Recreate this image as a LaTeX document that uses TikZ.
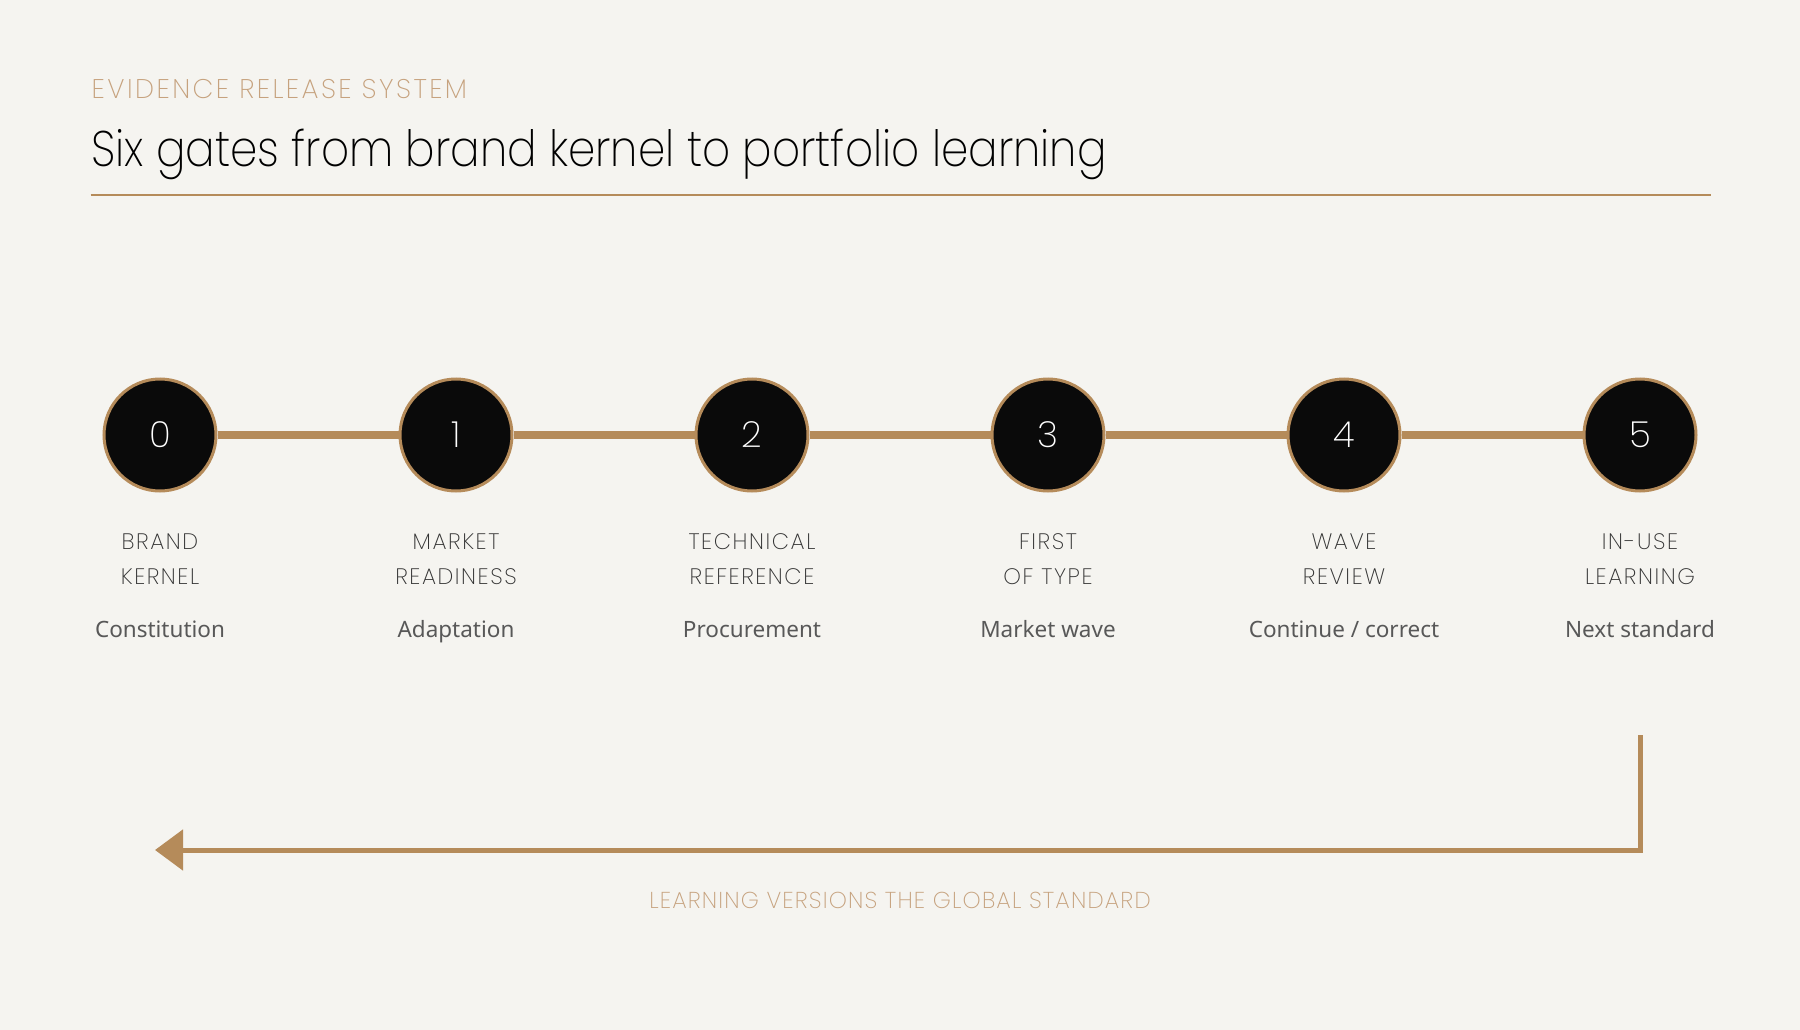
\documentclass[tikz,border=0pt]{standalone}
\usepackage{fontspec}
\usetikzlibrary{arrows.meta}
\setmainfont{Noto Sans}
\newfontfamily\thinfont{Poppins ExtraLight}
\newfontfamily\labfont{Poppins ExtraLight}[LetterSpace=7]
\newfontfamily\kickfont{Poppins ExtraLight}[LetterSpace=9]
\newfontfamily\loopfont{Poppins ExtraLight}[LetterSpace=5]
\newfontfamily\titlefont{Poppins ExtraLight}[FakeStretch=0.875]
\newfontfamily\subfont{Noto Sans}
\definecolor{bg}{HTML}{F5F4F0}
\definecolor{tan}{HTML}{B58B5A}
\definecolor{lighttan}{HTML}{C6A27E}
\definecolor{labgray}{HTML}{333333}
\definecolor{subgray}{HTML}{585858}
\definecolor{gatefill}{HTML}{0A0A0A}
\tikzset{
  gate/.style={circle, fill=gatefill, draw=tan, line width=3pt, minimum size=112pt, inner sep=0pt,
    text=white, font=\thinfont\fontsize{36}{36}\selectfont},
  link/.style={draw=tan, line width=8pt},
  lab/.style={align=center, anchor=base, text=labgray, inner sep=0pt, font=\labfont\fontsize{22.4}{35}\selectfont},
  sub/.style={anchor=base, text=subgray, inner sep=0pt, font=\subfont\fontsize{22.5}{24}\selectfont},
  looparrow/.style={draw=tan, line width=5pt, -{Triangle[length=28pt,width=40pt]}},
}
\begin{document}
\begin{tikzpicture}[x=1pt,y=-1pt]
\useasboundingbox[fill=bg] (0,0) rectangle (1800,1030);
% header
\node[anchor=base west, inner sep=0pt, text=lighttan, font=\kickfont\fontsize{27}{27}\selectfont] (kicker) at (91.5,98.3) {EVIDENCE RELEASE SYSTEM};
\node[anchor=base west, inner sep=0pt, text=black, font=\titlefont\fontsize{50}{50}\selectfont] (title) at (91,166.7) {Six gates from brand kernel to portfolio learning};
\coordinate (ruleL) at (90.7,195);
\coordinate (ruleR) at (1710.5,195);
\draw[tan, line width=2pt] (ruleL) -- (ruleR);
% gates
\foreach \i/\x/\la/\lb/\s in {0/160/BRAND/KERNEL/Constitution,
                              1/456/MARKET/READINESS/Adaptation,
                              2/752/TECHNICAL/REFERENCE/Procurement,
                              3/1048/FIRST/OF TYPE/Market wave,
                              4/1344/WAVE/REVIEW/{Continue / correct},
                              5/1640/IN-USE/LEARNING/Next standard}{
  \node[gate] (g\i) at (\x,435) {\i};
  \node[lab] (l\i) at (\x,584) {\la\\\lb};
  \node[sub] (s\i) at (\x,637.7) {\s};
}
\foreach \a/\b in {0/1,1/2,2/3,3/4,4/5}{
  \draw[link] (g\a) -- (g\b);
}
% loop back
\coordinate (loopStart) at (1640,735);
\coordinate (loopEnd) at (155,850);
\draw[looparrow] (loopStart) |- (loopEnd);
\node[inner sep=0pt, text=lighttan, font=\loopfont\fontsize{23}{23}\selectfont] (loopLabel) at (900,900) {LEARNING VERSIONS THE GLOBAL STANDARD};
\end{tikzpicture}
\end{document}
